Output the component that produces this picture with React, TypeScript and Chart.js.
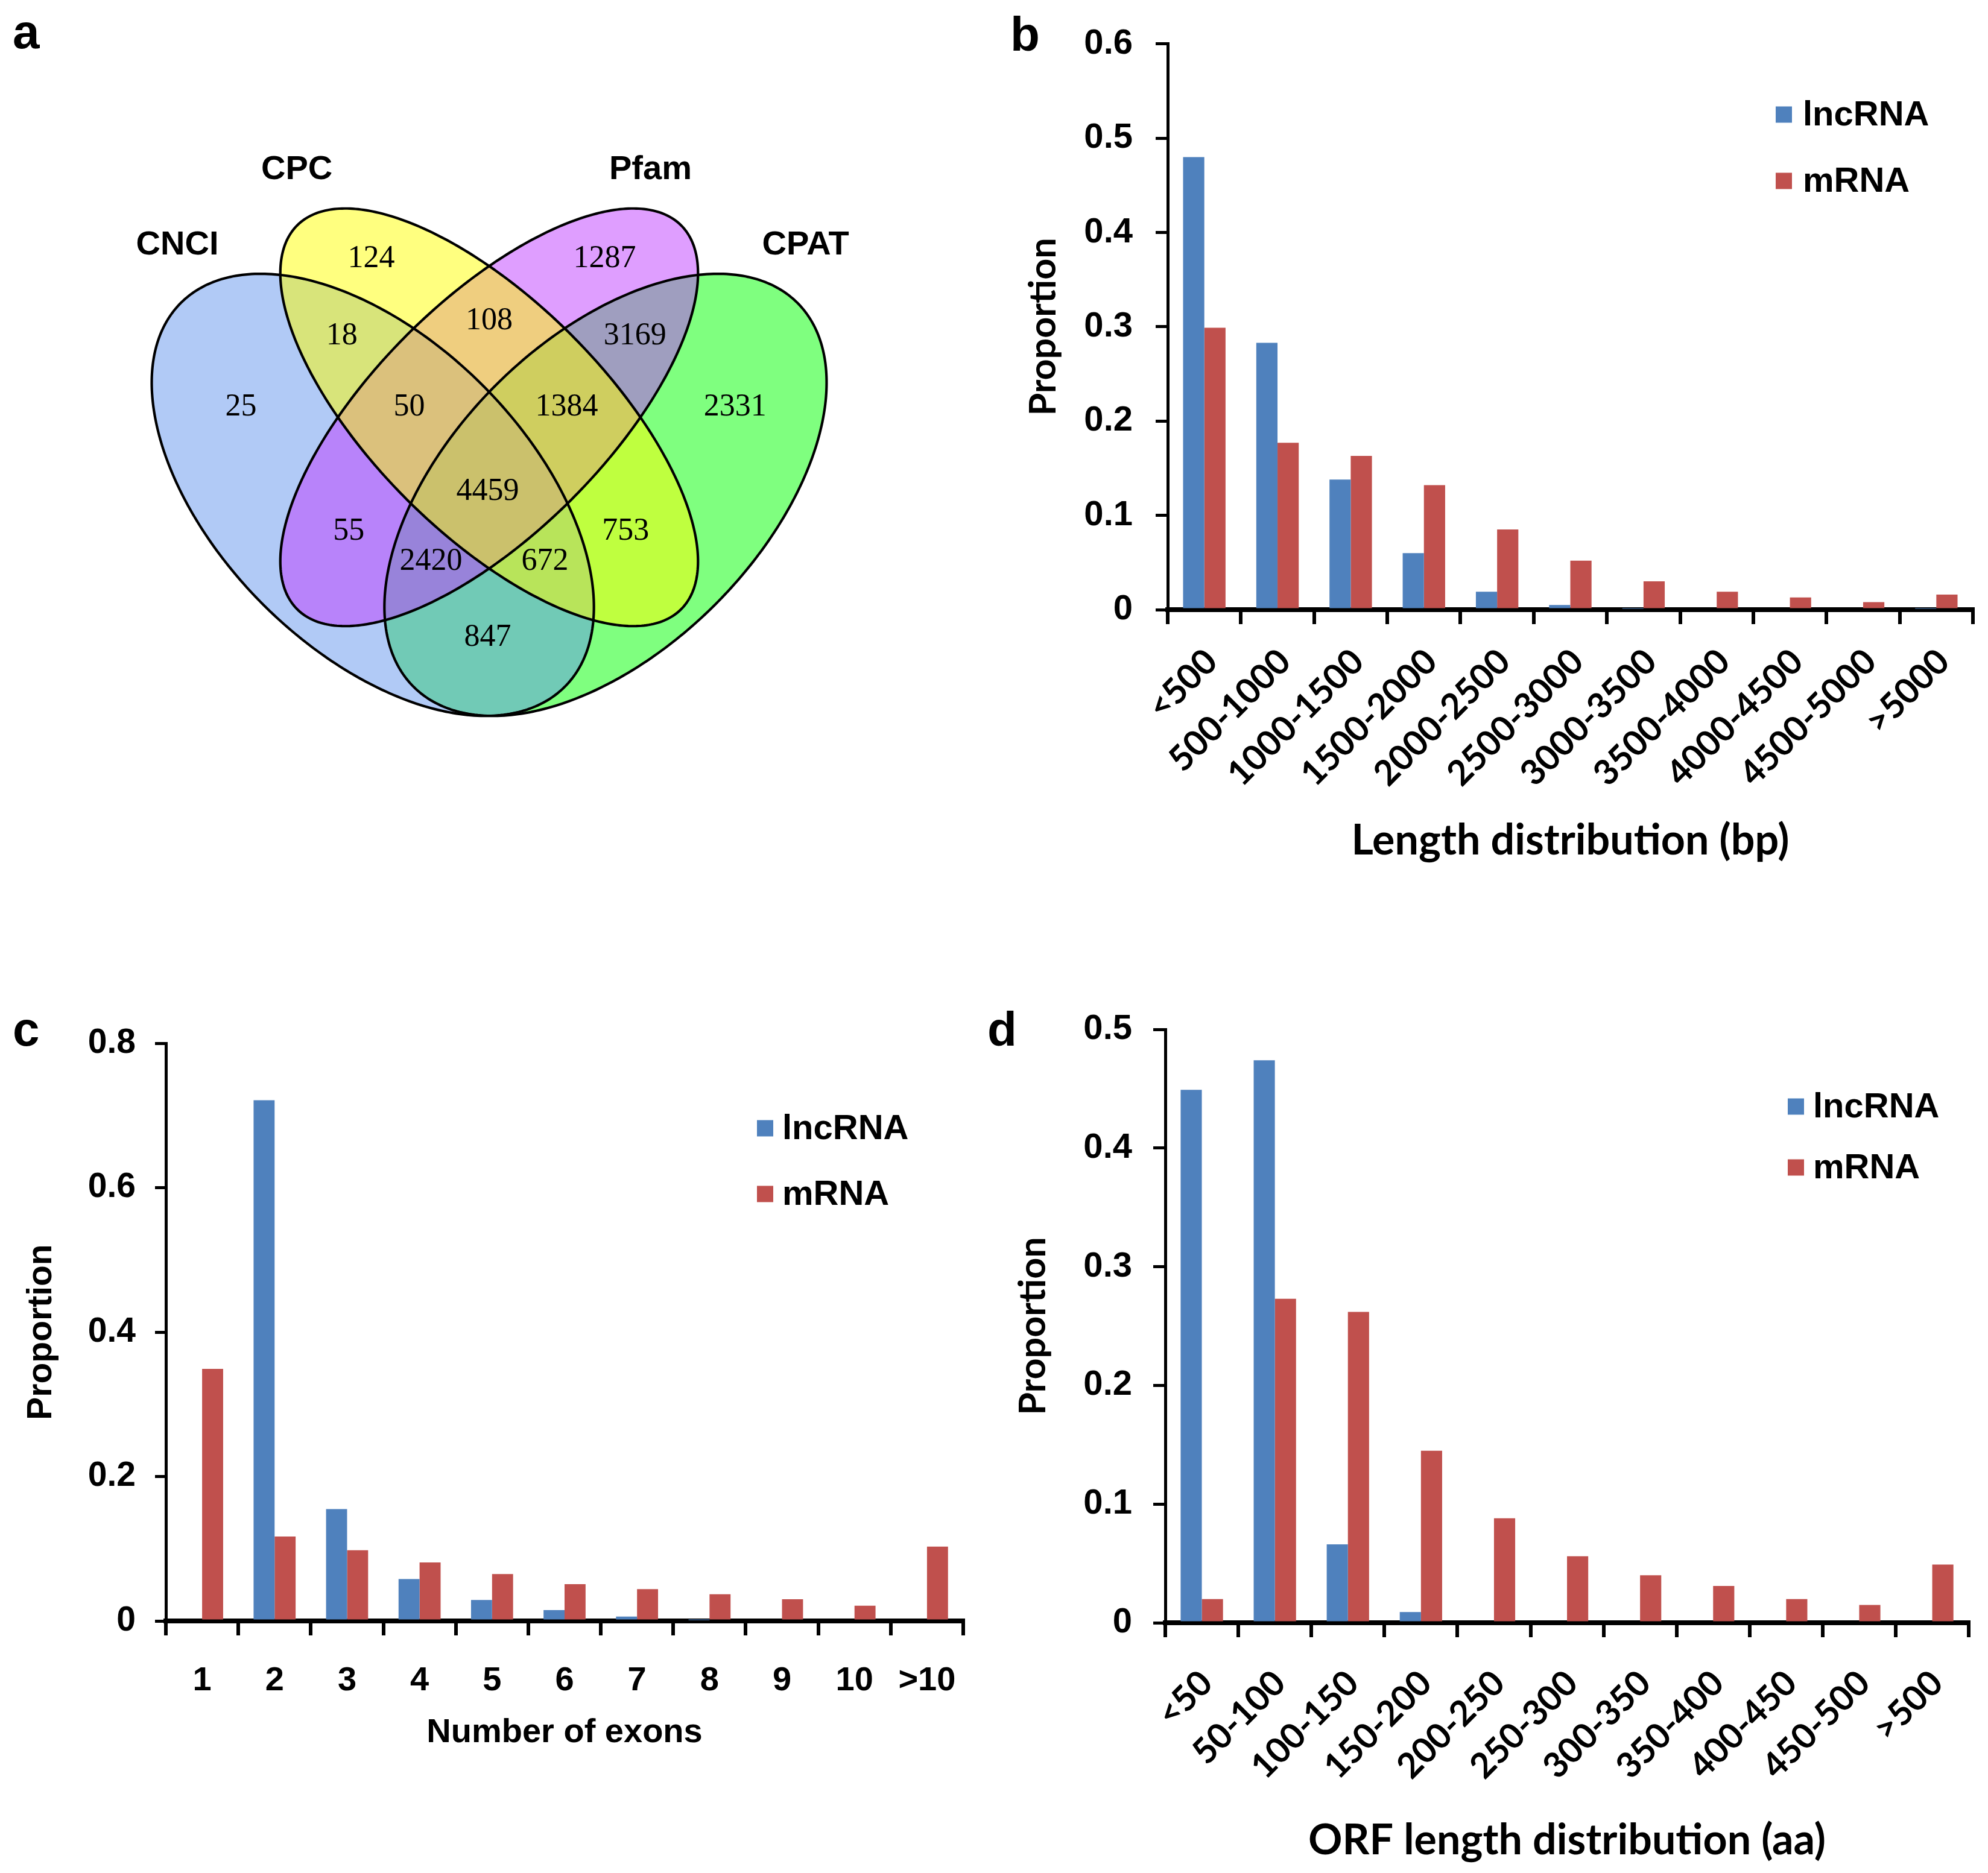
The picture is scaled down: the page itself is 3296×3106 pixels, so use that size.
import React, { useEffect, useRef } from 'react';
import { Chart, registerables } from 'chart.js';

Chart.register(...registerables);
Chart.defaults.color = '#000';

// ---------------- data ----------------
const vennSetNames = ['CNCI', 'CPC', 'Pfam', 'CPAT'];
// region counts (same order as VENN_REGION_ANCHORS below)
const vennRegionCounts = [25, 124, 1287, 2331, 18, 108, 3169, 50, 1384, 4459, 55, 753, 2420, 672, 847];

const seriesNames = ['lncRNA', 'mRNA'];

const lengthCategories = ['<500', '500-1000', '1000-1500', '1500-2000', '2000-2500', '2500-3000', '3000-3500', '3500-4000', '4000-4500', '4500-5000', '>5000'];
const lengthLncRNA = [0.48, 0.283, 0.138, 0.06, 0.019, 0.005, 0.001, 0, 0, 0, 0.001];
const lengthMRNA = [0.299, 0.177, 0.163, 0.132, 0.085, 0.052, 0.03, 0.019, 0.013, 0.008, 0.016];

const exonCategories = ['1', '2', '3', '4', '5', '6', '7', '8', '9', '10', '>10'];
const exonLncRNA = [0, 0.721, 0.155, 0.058, 0.029, 0.015, 0.006, 0.001, 0, 0, 0];
const exonMRNA = [0.349, 0.117, 0.098, 0.081, 0.065, 0.051, 0.044, 0.037, 0.03, 0.021, 0.103];

const orfCategories = ['<50', '50-100', '100-150', '150-200', '200-250', '250-300', '300-350', '350-400', '400-450', '450-500', '>500'];
const orfLncRNA = [0.449, 0.474, 0.066, 0.009, 0, 0, 0, 0, 0, 0, 0];
const orfMRNA = [0.02, 0.273, 0.262, 0.145, 0.088, 0.056, 0.04, 0.031, 0.02, 0.015, 0.049];

// ---------------- layout / style ----------------
const BLUE = '#4F81BD';
const RED = '#C0504D';
const ARIAL = "'Liberation Sans', Arial, Helvetica, sans-serif";
const TIMES = "'Liberation Serif', 'Times New Roman', serif";
const CALIBRI = "Lato, 'Open Sans', sans-serif";

// ellipse geometry in unit space (y up), rotation in degrees
const VENN_ELLIPSES = [
  { x: 0.35, y: 0.47, a: 0.35, b: 0.2, rot: 135 }, // CNCI
  { x: 0.5, y: 0.57, a: 0.35, b: 0.15, rot: 135 }, // CPC
  { x: 0.5, y: 0.57, a: 0.35, b: 0.15, rot: 45 }, // Pfam
  { x: 0.65, y: 0.47, a: 0.35, b: 0.2, rot: 45 }, // CPAT
];
const VENN_FILLS = ['rgba(100,149,237,0.5)', 'rgba(255,255,0,0.5)', 'rgba(191,62,255,0.5)', 'rgba(0,255,0,0.5)'];
const VENN_DRAW_ORDER = [3, 0, 2, 1];
const VENN_REGION_ANCHORS = [
  [0.18, 0.583], [0.348, 0.774], [0.649, 0.774], [0.817, 0.583],
  [0.31, 0.675], [0.5, 0.694], [0.688, 0.675],
  [0.397, 0.583], [0.6, 0.583], [0.498, 0.474],
  [0.319, 0.423], [0.676, 0.423], [0.425, 0.384], [0.572, 0.384], [0.498, 0.286],
];
const VENN_NAME_ANCHORS = [[0.098, 0.792], [0.252, 0.889], [0.708, 0.889], [0.908, 0.792]];
const VENN_UNIT = 1286; // px per unit
const VENN_CX = 811;
const VENN_CY = 692;

// ---------------- plugins ----------------
const panelTagPlugin = {
  id: 'panelTag',
  afterDraw(chart: any, _args: any, opts: any) {
    if (!opts || !opts.text) return;
    const ctx = chart.ctx;
    ctx.save();
    ctx.fillStyle = '#000';
    ctx.font = `bold ${opts.size || 80}px ${ARIAL}`;
    ctx.textAlign = 'left';
    ctx.textBaseline = 'alphabetic';
    ctx.fillText(opts.text, opts.x, opts.y);
    ctx.restore();
  },
};

const boxLegendPlugin = {
  id: 'boxLegend',
  afterDraw(chart: any, _args: any, opts: any) {
    if (!opts || !opts.ys) return;
    const ctx = chart.ctx;
    ctx.save();
    chart.data.datasets.forEach((ds: any, i: number) => {
      const y = opts.ys[i];
      ctx.fillStyle = ds.backgroundColor;
      ctx.fillRect(opts.boxX, y - opts.box / 2 - 2, opts.box, opts.box);
      ctx.fillStyle = '#000';
      ctx.font = `bold ${opts.fontSize}px ${ARIAL}`;
      ctx.textAlign = 'left';
      ctx.textBaseline = 'middle';
      ctx.fillText(ds.label, opts.textX, y);
    });
    ctx.restore();
  },
};

function ellipsePath(ctx: any, chart: any, e: any) {
  const xs = chart.scales.x;
  const ys = chart.scales.y;
  const r = (e.rot * Math.PI) / 180;
  ctx.beginPath();
  for (let i = 0; i <= 360; i++) {
    const t = (i * Math.PI) / 180;
    const lx = e.a * Math.cos(t);
    const ly = e.b * Math.sin(t);
    const ux = e.x + lx * Math.cos(r) - ly * Math.sin(r);
    const uy = e.y + lx * Math.sin(r) + ly * Math.cos(r);
    const px = xs.getPixelForValue(ux);
    const py = ys.getPixelForValue(uy);
    if (i === 0) ctx.moveTo(px, py);
    else ctx.lineTo(px, py);
  }
  ctx.closePath();
}

const vennPlugin = {
  id: 'vennEllipses',
  beforeDatasetsDraw(chart: any) {
    const ctx = chart.ctx;
    ctx.save();
    VENN_DRAW_ORDER.forEach((idx) => {
      ellipsePath(ctx, chart, VENN_ELLIPSES[idx]);
      ctx.fillStyle = VENN_FILLS[idx];
      ctx.fill();
    });
    ctx.strokeStyle = '#000';
    ctx.lineWidth = 4.2;
    VENN_ELLIPSES.forEach((e) => {
      ellipsePath(ctx, chart, e);
      ctx.stroke();
    });
    ctx.restore();
  },
  afterDatasetsDraw(chart: any) {
    const ctx = chart.ctx;
    ctx.save();
    ctx.fillStyle = '#000';
    ctx.textAlign = 'center';
    ctx.textBaseline = 'middle';
    ctx.font = `52px ${TIMES}`;
    chart.getDatasetMeta(0).data.forEach((pt: any, i: number) => {
      ctx.fillText(String(vennRegionCounts[i]), pt.x, pt.y);
    });
    ctx.font = `bold 56px ${ARIAL}`;
    chart.getDatasetMeta(1).data.forEach((pt: any, i: number) => {
      ctx.fillText(vennSetNames[i], pt.x, pt.y);
    });
    ctx.restore();
  },
};

// ---------------- configs ----------------
function vennConfig(w: number, h: number) {
  return {
    type: 'scatter',
    data: {
      datasets: [
        { label: 'regions', data: VENN_REGION_ANCHORS.map(([x, y]) => ({ x, y })), pointRadius: 0 },
        { label: 'sets', data: VENN_NAME_ANCHORS.map(([x, y]) => ({ x, y })), pointRadius: 0 },
      ],
    },
    options: {
      animation: false,
      responsive: false,
      devicePixelRatio: 1,
      events: [],
      layout: { padding: 0 },
      plugins: {
        legend: { display: false },
        tooltip: { enabled: false },
        panelTag: { text: 'a', x: 21, y: 80, size: 80 },
      },
      scales: {
        x: { type: 'linear', display: false, min: 0.5 - VENN_CX / VENN_UNIT, max: 0.5 + (w - VENN_CX) / VENN_UNIT },
        y: { type: 'linear', display: false, min: 0.57 - (h - VENN_CY) / VENN_UNIT, max: 0.57 + VENN_CY / VENN_UNIT },
      },
    },
    plugins: [vennPlugin, panelTagPlugin],
  };
}

function barConfig(p: any) {
  return {
    type: 'bar',
    data: {
      labels: p.labels,
      datasets: [
        { label: seriesNames[0], data: p.lnc, backgroundColor: BLUE, borderWidth: 0, categoryPercentage: 0.58, barPercentage: 1 },
        { label: seriesNames[1], data: p.mrna, backgroundColor: RED, borderWidth: 0, categoryPercentage: 0.58, barPercentage: 1 },
      ],
    },
    options: {
      animation: false,
      responsive: false,
      devicePixelRatio: 1,
      events: [],
      layout: { padding: { left: 0, top: p.top, right: p.right, bottom: 0 } },
      plugins: {
        legend: { display: false },
        tooltip: { enabled: false },
        boxLegend: p.legend,
        panelTag: p.tag,
      },
      scales: {
        x: {
          z: 1,
          grid: { display: true, offset: true, drawOnChartArea: false, drawTicks: true, tickLength: 24, lineWidth: 6, color: '#000' },
          border: { display: true, color: '#000', width: 8 },
          ticks: {
            autoSkip: false,
            maxRotation: p.rot,
            minRotation: p.rot,
            padding: p.xTickPad,
            labelOffset: p.xLabelOffset || 0,
            color: '#000',
            font: { family: p.xTickFamily, size: p.xTickSize, weight: 'bold' },
          },
          title: {
            display: true,
            text: p.xTitle,
            color: '#000',
            font: { family: p.titleFamily, size: p.xTitleSize, weight: 'bold' },
            padding: { top: 0, bottom: p.xTitlePad },
          },
          afterFit: (s: any) => {
            s.height = p.xHeight;
          },
        },
        y: {
          z: 1,
          min: 0,
          max: p.yMax,
          grid: { display: true, drawOnChartArea: false, drawTicks: true, tickLength: p.yTickLen, lineWidth: 5, color: '#000' },
          border: { display: true, color: '#000', width: 5 },
          ticks: {
            stepSize: p.yStep,
            padding: p.yTickPad,
            color: '#000',
            font: { family: ARIAL, size: p.yTickSize, weight: 'bold' },
            callback: (v: any) => (Math.abs(v) < 1e-9 ? '0' : Number(v).toFixed(1)),
          },
          title: {
            display: true,
            text: 'Proportion',
            color: '#000',
            font: { family: p.titleFamily, size: p.yTitleSize, weight: 'bold' },
            padding: { top: p.yTitlePad, bottom: 0 },
          },
          afterFit: (s: any) => {
            s.width = p.yWidth;
          },
        },
      },
    },
    plugins: [boxLegendPlugin, panelTagPlugin],
  };
}

// ---------------- components ----------------
function ChartCanvas({ left, top, width, height, make }: any) {
  const ref = useRef<HTMLCanvasElement>(null);
  useEffect(() => {
    const chart = new Chart(ref.current as HTMLCanvasElement, make() as any);
    return () => chart.destroy();
  }, []);
  return (
    <canvas
      ref={ref}
      width={width}
      height={height}
      style={{ position: 'absolute', left, top, width, height }}
    />
  );
}

export default function App() {
  return (
    <div style={{ position: 'absolute', left: 0, top: 0, width: 3296, height: 3106, background: '#fff', overflow: 'hidden' }}>
      <ChartCanvas left={0} top={0} width={1640} height={1560} make={() => vennConfig(1640, 1560)} />
      <ChartCanvas
        left={1640}
        top={0}
        width={1656}
        height={1500}
        make={() =>
          barConfig({
            labels: lengthCategories,
            lnc: lengthLncRNA,
            mrna: lengthMRNA,
            top: 55,
            right: 25,
            yWidth: 296,
            xHeight: 489,
            yMax: 0.6,
            yStep: 0.1,
            yTickLen: 20,
            yTickPad: 38,
            yTickSize: 58,
            rot: 45,
            xTickPad: 28,
            xLabelOffset: 12,
            xTickFamily: CALIBRI,
            xTickSize: 58,
            titleFamily: CALIBRI,
            xTitle: 'Length distribution (bp)',
            xTitleSize: 70,
            xTitlePad: 64,
            yTitleSize: 61,
            yTitlePad: 54,
            legend: { boxX: 1304, textX: 1349, ys: [192, 302], box: 27, fontSize: 58 },
            tag: { text: 'b', x: 35, y: 84, size: 80 },
          })
        }
      />
      <ChartCanvas
        left={0}
        top={1600}
        width={1640}
        height={1506}
        make={() =>
          barConfig({
            labels: exonCategories,
            lnc: exonLncRNA,
            mrna: exonMRNA,
            top: 130,
            right: 43,
            yWidth: 275,
            xHeight: 418,
            yMax: 0.8,
            yStep: 0.2,
            yTickLen: 18,
            yTickPad: 32,
            yTickSize: 57,
            rot: 0,
            xTickPad: 42,
            xTickFamily: ARIAL,
            xTickSize: 56,
            titleFamily: ARIAL,
            xTitle: 'Number of exons',
            xTitleSize: 56,
            xTitlePad: 199,
            yTitleSize: 57,
            yTitlePad: 35,
            legend: { boxX: 1255, textX: 1297, ys: [273, 382], box: 27, fontSize: 58 },
            tag: { text: 'c', x: 21, y: 134, size: 80 },
          })
        }
      />
      <ChartCanvas
        left={1610}
        top={1600}
        width={1686}
        height={1506}
        make={() =>
          barConfig({
            labels: orfCategories,
            lnc: orfLncRNA,
            mrna: orfMRNA,
            top: 107,
            right: 27,
            yWidth: 322,
            xHeight: 415,
            yMax: 0.5,
            yStep: 0.1,
            yTickLen: 20,
            yTickPad: 35,
            yTickSize: 58,
            rot: 45,
            xTickPad: 42,
            xLabelOffset: 8,
            xTickFamily: CALIBRI,
            xTickSize: 58,
            titleFamily: CALIBRI,
            xTitle: 'ORF length distribution (aa)',
            xTitleSize: 70,
            xTitlePad: 12,
            yTitleSize: 61,
            yTitlePad: 67,
            legend: { boxX: 1354, textX: 1396, ys: [237, 338], box: 27, fontSize: 58 },
            tag: { text: 'd', x: 27, y: 134, size: 80 },
          })
        }
      />
    </div>
  );
}
